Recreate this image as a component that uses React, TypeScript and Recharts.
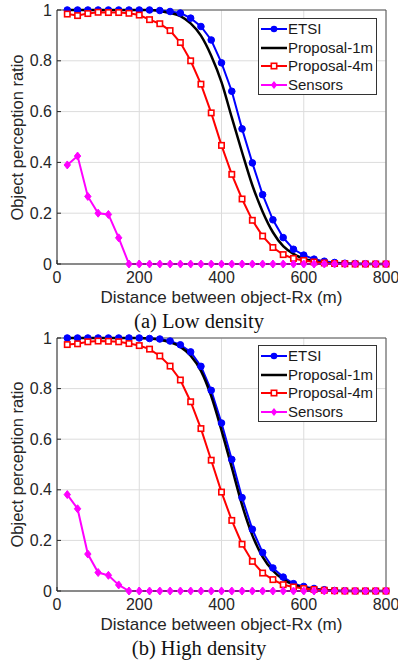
import React from 'react';
import { LineChart, Line, XAxis, YAxis, CartesianGrid, ReferenceLine } from 'recharts';

// distance between object and receiver (m)
const distance = [
  25, 50, 75, 100, 125, 150, 175, 200, 225, 250, 275, 300, 325, 350, 375, 400,
  425, 450, 475, 500, 525, 550, 575, 600, 625, 650, 675, 700, 725, 750, 775, 800,
];

// (a) low density
const etsiLow = [
  1, 1, 1, 1, 1, 1, 1, 1, 1, 0.998, 0.994, 0.988, 0.968, 0.935, 0.882, 0.792,
  0.68, 0.532, 0.398, 0.273, 0.174, 0.104, 0.058, 0.035, 0.019, 0.011, 0.006, 0.003, 0.002, 0.001, 0, 0,
];
const prop1Low = [
  1, 1, 1, 1, 1, 1, 1, 1, 1, 0.996, 0.988, 0.976, 0.947, 0.899, 0.82, 0.716,
  0.577, 0.44, 0.31, 0.206, 0.125, 0.07, 0.04, 0.021, 0.011, 0.005, 0.002, 0.001, 0, 0, 0, 0,
];
const prop4Low = [
  0.984, 0.978, 0.986, 0.991, 0.99, 0.99, 0.987, 0.98, 0.962, 0.946, 0.919, 0.872, 0.8, 0.708, 0.595, 0.467,
  0.353, 0.256, 0.172, 0.11, 0.065, 0.037, 0.022, 0.014, 0.008, 0.004, 0.002, 0.001, 0, 0, 0, 0,
];
const sensorsLow = [
  0.39, 0.425, 0.266, 0.2, 0.195, 0.103, 0, 0, 0, 0, 0, 0, 0, 0, 0, 0,
  0, 0, 0, 0, 0, 0, 0, 0, 0, 0, 0, 0, 0, 0, 0, 0,
];

// (b) high density
const etsiHigh = [
  1, 1, 1, 1, 1, 1, 1, 1, 0.998, 0.996, 0.988, 0.973, 0.945, 0.888, 0.793, 0.664,
  0.52, 0.369, 0.244, 0.152, 0.091, 0.055, 0.029, 0.018, 0.01, 0.005, 0.002, 0.001, 0, 0, 0, 0,
];
const prop1High = [
  1, 1, 1, 1, 1, 1, 1, 1, 0.998, 0.993, 0.983, 0.965, 0.93, 0.87, 0.77, 0.635,
  0.488, 0.34, 0.22, 0.135, 0.08, 0.046, 0.025, 0.014, 0.007, 0.003, 0.001, 0, 0, 0, 0, 0,
];
const prop4High = [
  0.974, 0.977, 0.985, 0.988, 0.987, 0.985, 0.978, 0.97, 0.956, 0.929, 0.889, 0.834, 0.748, 0.642, 0.517, 0.391,
  0.279, 0.185, 0.117, 0.071, 0.045, 0.025, 0.016, 0.01, 0.006, 0.003, 0.001, 0, 0, 0, 0, 0,
];
const sensorsHigh = [
  0.381, 0.325, 0.146, 0.073, 0.062, 0.024, 0, 0, 0, 0, 0, 0, 0, 0, 0, 0,
  0, 0, 0, 0, 0, 0, 0, 0, 0, 0, 0, 0, 0, 0, 0, 0,
];

const xTicks = [0, 200, 400, 600, 800];
const yTicks = [0, 0.2, 0.4, 0.6, 0.8, 1];
const legendNames = ['ETSI', 'Proposal-1m', 'Proposal-4m', 'Sensors'];

const SANS = '"Liberation Sans", Arial, Helvetica, sans-serif';
const SERIF = '"Liberation Serif", "Times New Roman", serif';
const AXIS = '#262626';

const BLUE = '#0000ff';
const RED = '#ff0000';
const MAGENTA = '#ff00ff';

function build(e: number[], p1: number[], p4: number[], s: number[]) {
  return distance.map((d, i) => ({ d, etsi: e[i], p1: p1[i], p4: p4[i], sensors: s[i] }));
}

const lowData = build(etsiLow, prop1Low, prop4Low, sensorsLow);
const highData = build(etsiHigh, prop1High, prop4High, sensorsHigh);

function circleDot(p: any) {
  if (p.cx == null || p.cy == null) return <g key={`c${p.index}`} />;
  return <circle key={`c${p.index}`} cx={p.cx} cy={p.cy} r={3.3} fill={BLUE} stroke={BLUE} strokeWidth={1} />;
}
function squareDot(p: any) {
  if (p.cx == null || p.cy == null) return <g key={`s${p.index}`} />;
  return <rect key={`s${p.index}`} x={p.cx - 2.7} y={p.cy - 2.7} width={5.4} height={5.4} fill="#fff" stroke={RED} strokeWidth={1.6} />;
}
function diamondDot(p: any) {
  if (p.cx == null || p.cy == null) return <g key={`m${p.index}`} />;
  const { cx, cy } = p;
  return <polygon key={`m${p.index}`} points={`${cx},${cy - 4} ${cx + 3.2},${cy} ${cx},${cy + 4} ${cx - 3.2},${cy}`} fill={MAGENTA} stroke={MAGENTA} strokeWidth={1} />;
}

function LegendBox({ top }: { top: number }) {
  const marks = [
    <circle cx={14} cy={9} r={3.3} fill={BLUE} />,
    null,
    <rect x={11.3} y={6.3} width={5.4} height={5.4} fill="#fff" stroke={RED} strokeWidth={1.6} />,
    <polygon points="14,5 17.2,9 14,13 10.8,9" fill={MAGENTA} />,
  ];
  const colors = [BLUE, '#000', RED, MAGENTA];
  return (
    <div style={{
      position: 'absolute', left: 258, top, width: 119, height: 77, boxSizing: 'border-box',
      border: '1px solid #333', background: '#fff',
    }}>
      {legendNames.map((n, i) => (
        <div key={n} style={{ position: 'absolute', left: 0, top: 1 + i * 18.6, height: 18, width: 116 }}>
          <svg width={28} height={18} style={{ position: 'absolute', left: 1, top: 0 }}>
            <line x1={1} y1={9} x2={27} y2={9} stroke={colors[i]} strokeWidth={i === 1 ? 2.5 : 2} />
            {marks[i]}
          </svg>
          <span style={{
            position: 'absolute', left: 29, top: 0, lineHeight: '18px', fontSize: 15,
            fontFamily: SANS, color: '#1a1a1a', whiteSpace: 'nowrap',
          }}>{n}</span>
        </div>
      ))}
    </div>
  );
}

function Panel({ data, top, plotH, caption }: { data: any[]; top: number; plotH: number; caption: string }) {
  const h = 10 + plotH + 30;
  const tick = { fontSize: 16, fontFamily: SANS, fill: '#262626' };
  return (
    <div style={{ position: 'absolute', left: 0, top, width: 398, height: h + 60 }}>
      <LineChart width={398} height={h} data={data} margin={{ top: 10, right: 12, left: 0, bottom: 0 }}>
        <CartesianGrid stroke="#dcdcdc" strokeWidth={1} vertical horizontal />
        <XAxis
          dataKey="d" type="number" domain={[0, 800]} ticks={xTicks} height={30}
          stroke={AXIS} tickSize={-4} tickMargin={12} tick={tick} interval={0}
        />
        <YAxis
          type="number" domain={[0, 1]} ticks={yTicks} width={57}
          stroke={AXIS} tickSize={-4} tickMargin={9} tick={tick} interval={0}
        />
        <ReferenceLine y={1} stroke="#555" strokeWidth={1} />
        <ReferenceLine x={800} stroke="#555" strokeWidth={1} />
        <Line dataKey="etsi" stroke={BLUE} strokeWidth={2} dot={circleDot} isAnimationActive={false} />
        <Line dataKey="p1" type="monotone" stroke="#000" strokeWidth={2.5} dot={false} isAnimationActive={false} />
        <Line dataKey="p4" stroke={RED} strokeWidth={2} dot={squareDot} isAnimationActive={false} />
        <Line dataKey="sensors" stroke={MAGENTA} strokeWidth={2} dot={diamondDot} isAnimationActive={false} />
      </LineChart>
      <div style={{
        position: 'absolute', left: 0, top: 10, width: 34, height: plotH,
        display: 'flex', alignItems: 'center', justifyContent: 'center',
      }}>
        <div style={{
          transform: 'rotate(-90deg)', whiteSpace: 'nowrap', fontSize: 16.5,
          fontFamily: SANS, color: '#262626',
        }}>Object perception ratio</div>
      </div>
      <div style={{
        position: 'absolute', left: 57, width: 329, top: 10 + plotH + 25, textAlign: 'center',
        fontSize: 17, lineHeight: '18px', fontFamily: SANS, color: '#262626', whiteSpace: 'nowrap',
      }}>Distance between object-Rx (m)</div>
      <div style={{
        position: 'absolute', left: 0, width: 398, top: 10 + plotH + 47, textAlign: 'center',
        fontSize: 20.5, lineHeight: '20px', fontFamily: SERIF, color: '#111',
      }}>{caption}</div>
      <LegendBox top={top === 0 ? 18 : 17} />
    </div>
  );
}

export default function App() {
  return (
    <div style={{ position: 'absolute', left: 0, top: 0, width: 398, height: 661, background: '#fff', overflow: 'hidden' }}>
      <Panel data={lowData} top={0} plotH={254} caption="(a) Low density" />
      <Panel data={highData} top={328} plotH={253} caption="(b) High density" />
    </div>
  );
}
